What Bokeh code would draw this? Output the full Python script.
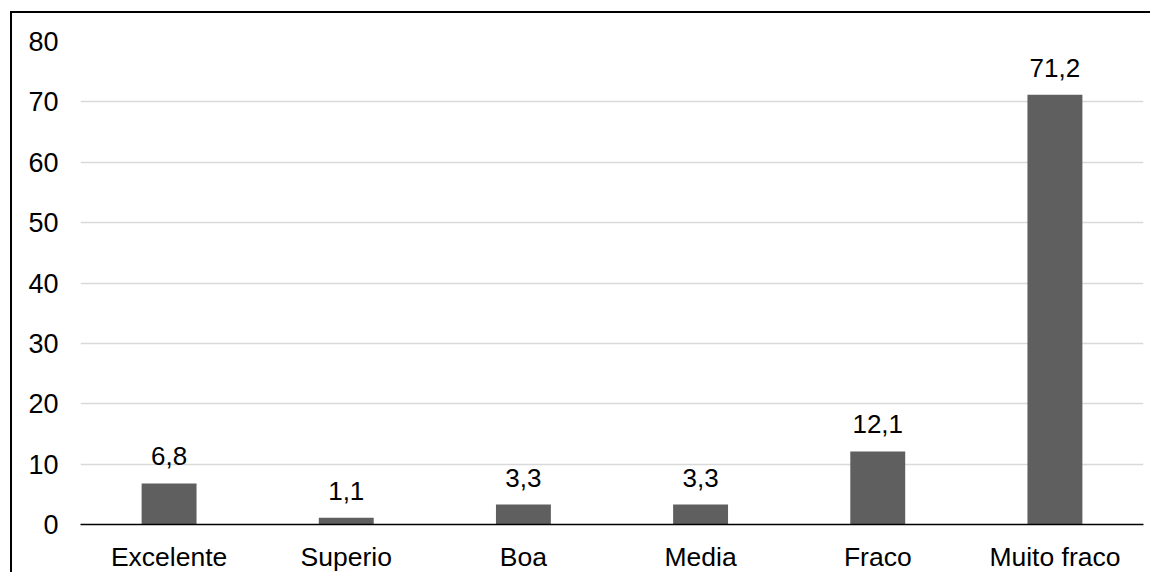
from bokeh.plotting import figure
from bokeh.models import FactorRange, Range1d, SingleIntervalTicker, ColumnDataSource
from bokeh.core.properties import value
from bokeh.embed import file_html
from bokeh.resources import INLINE

categories = ["Excelente", "Superio", "Boa", "Media", "Fraco", "Muito fraco"]
values = [6.8, 1.1, 3.3, 3.3, 12.1, 71.2]
labels = ["6,8", "1,1", "3,3", "3,3", "12,1", "71,2"]

src = ColumnDataSource(dict(cat=categories, val=values, lab=labels))

FONT = "Liberation Sans"

p = figure(
    x_range=FactorRange(*categories, range_padding=0),
    y_range=Range1d(0, 80),
    width=1140, height=561,
    output_backend="svg", toolbar_location=None,
    min_border_left=68, min_border_right=9, min_border_top=28, min_border_bottom=50,
)
p.styles = {"border-left": "2px solid #000000", "border-top": "2px solid #000000",
            "margin-left": "10px", "margin-top": "11px"}

p.outline_line_color = None
p.background_fill_color = "white"
p.border_fill_color = "white"

p.vbar(x="cat", top="val", width=0.31, source=src, fill_color="#5f5f5f", line_color=None)

p.text(x="cat", y="val", text="lab", source=src, text_align="center",
       text_baseline="alphabetic", y_offset=-27, text_font=value(FONT),
       text_font_size="26px", text_color="#000000")

p.yaxis.ticker = SingleIntervalTicker(interval=10)
p.yaxis.axis_line_color = None
p.yaxis.major_tick_line_color = None
p.yaxis.minor_tick_line_color = None
p.yaxis.major_label_standoff = 16
p.yaxis.major_label_text_font = FONT
p.yaxis.major_label_text_font_size = "27px"
p.yaxis.major_label_text_color = "#000000"

p.xaxis.axis_line_color = "#000000"
p.xaxis.axis_line_width = 1.5
p.xaxis.major_tick_line_color = None
p.xaxis.minor_tick_line_color = None
p.xaxis.major_label_standoff = 11
p.xaxis.major_label_text_font = FONT
p.xaxis.major_label_text_font_size = "26.5px"
p.xaxis.major_label_text_color = "#000000"

p.xgrid.grid_line_color = None
p.ygrid.grid_line_color = "#d9d9d9"
p.ygrid.grid_line_width = 1.5

open("out.html", "w").write(file_html(p, INLINE))
